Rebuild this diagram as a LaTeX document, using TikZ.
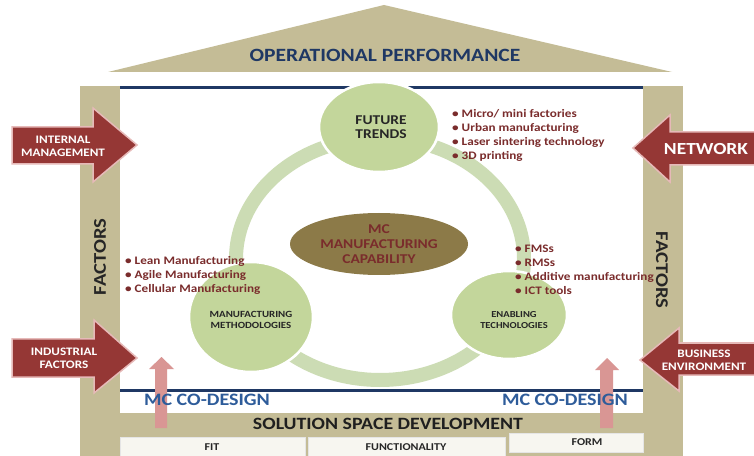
\documentclass[tikz,border=0pt]{standalone}
\usepackage{fontspec}
\setmainfont{Carlito}[FakeStretch=1.15]
\definecolor{tan}{HTML}{C4BC96}
\definecolor{navy}{HTML}{1F3864}
\definecolor{ringgreen}{HTML}{CCDCB4}
\definecolor{circgreen}{HTML}{C3D69B}
\definecolor{olive}{HTML}{8C7A48}
\definecolor{arrowred}{HTML}{953735}
\definecolor{arrowedge}{HTML}{E6B9B8}
\definecolor{pinkarrow}{HTML}{D99694}
\definecolor{listred}{HTML}{7A2C2C}
\definecolor{codesign}{HTML}{2E5C9A}
\definecolor{boxfill}{HTML}{F7F6F0}
\tikzset{
  fs/.style={font=\bfseries\fontsize{#1}{#1}\selectfont},
  bigarrow/.style={fill=arrowred, draw=arrowedge, line width=1.5bp, line join=miter},
  uparrow/.style={fill=pinkarrow, draw=none},
  arrowtext/.style={text=white, align=center, inner sep=0pt},
  bubble/.style={fill=circgreen, draw=white, line width=2.5bp},
  bubbletext/.style={text=black!85, align=center, inner sep=0pt},
  listtext/.style={text=listred, align=left, anchor=north west, inner sep=0pt,
    font=\bfseries\fontsize{11.5}{14}\selectfont},
  lowbox/.style={fill=boxfill, draw=black!10, line width=0.5bp},
  lowtext/.style={fs=10.5, text=black!85, inner sep=0pt},
}
\begin{document}
\begin{tikzpicture}[x=1bp,y=-1bp]
\useasboundingbox (0,0) rectangle (754,456);
\clip (0,0) rectangle (754,456);
\fill[white] (0,0) rectangle (754,456);
% roof
\fill[tan] (108,72) -- (384,5) -- (672,72) -- cycle;
\node[fs=18.8, text=navy, inner sep=0pt] (perf) at (385,55) {OPERATIONAL PERFORMANCE};
% pillars and base band
\fill[tan] (80,86) rectangle (120,456);
\fill[tan] (643,86) rectangle (683,456);
\fill[tan] (80,413) rectangle (683,456);
% navy lines
\draw[navy, line width=3bp] (120,87.5) -- (643,87.5);
\draw[navy, line width=3bp] (120,390) -- (643,390);
% ring
\draw[ringgreen, line width=14bp] (380,259) ellipse [x radius=144, y radius=121];
% bubbles
\filldraw[bubble] (379,127) ellipse [x radius=60, y radius=45];
\filldraw[bubble] (251,317) ellipse [x radius=62, y radius=55];
\filldraw[bubble] (509,315) ellipse [x radius=58, y radius=44];
\node[bubbletext, font=\bfseries\fontsize{13.5}{13.5}\selectfont] (future) at (381,127) {FUTURE\\TRENDS};
\node[bubbletext, font=\bfseries\fontsize{9.5}{11.5}\selectfont] (method) at (251,320) {MANUFACTURING\\METHODOLOGIES};
\node[bubbletext, font=\bfseries\fontsize{9.2}{11.5}\selectfont] (enabling) at (514,320) {ENABLING\\TECHNOLOGIES};
% center ellipse
\fill[olive] (379,244) ellipse [x radius=89, y radius=31];
\node[text=listred, align=center, inner sep=0pt, font=\bfseries\fontsize{13.5}{15}\selectfont] (mc) at (379,244) {MC\\MANUFACTURING\\CAPABILITY};
% lists
\node[listtext] (trendlist) at (452,109) {• Micro/ mini factories\\• Urban manufacturing\\• Laser sintering technology\\• 3D printing};
\node[listtext] (methlist) at (125,256) {• Lean Manufacturing\\• Agile Manufacturing\\• Cellular Manufacturing};
\node[listtext] (techlist) at (515,245) {• FMSs\\• RMSs\\• Additive manufacturing\\• ICT tools};
% factors
\node[fs=18, text=black!85, rotate=90, inner sep=0pt] (factl) at (100,257) {FACTORS};
\node[fs=18, text=black!85, rotate=-90, inner sep=0pt] (factr) at (662,270) {FACTORS};
% pink arrows
\fill[uparrow] (155,428) -- (155,369) -- (149,369) -- (161.5,357) -- (174,369) -- (167,369) -- (167,428) -- cycle;
\fill[uparrow] (600,428) -- (600,370) -- (595,370) -- (607,358) -- (619,370) -- (613,370) -- (613,428) -- cycle;
% co-design and bottom
\node[fs=17.5, text=codesign, inner sep=0pt] (cdl) at (207,400) {MC CO-DESIGN};
\node[fs=17.5, text=codesign, inner sep=0pt] (cdr) at (565,400) {MC CO-DESIGN};
\node[fs=17.3, text=black!88, inner sep=0pt] (ssd) at (388,424) {SOLUTION SPACE DEVELOPMENT};
\filldraw[lowbox] (120,437) rectangle (305,458);
\filldraw[lowbox] (308,437) rectangle (505,458);
\filldraw[lowbox] (509,433) rectangle (643,452);
\node[lowtext] (fit) at (212,447) {FIT};
\node[lowtext] (func) at (406,447) {FUNCTIONALITY};
\node[lowtext] (form) at (587,442) {FORM};
% big arrows
\filldraw[bigarrow] (12,127) -- (93,127) -- (93,108) -- (137,145) -- (93,182) -- (93,164) -- (12,164) -- cycle;
\filldraw[bigarrow] (12,339) -- (94,339) -- (94,320) -- (137,358) -- (94,393) -- (94,377) -- (12,377) -- cycle;
\filldraw[bigarrow] (760,132) -- (670,132) -- (670,115) -- (633,148) -- (670,182) -- (670,165) -- (760,165) -- cycle;
\filldraw[bigarrow] (760,343) -- (679,343) -- (679,328) -- (640,360) -- (679,391) -- (679,375) -- (760,375) -- cycle;
\node[arrowtext, font=\bfseries\fontsize{11.5}{13}\selectfont] (im) at (63,146) {INTERNAL\\MANAGEMENT};
\node[arrowtext, font=\bfseries\fontsize{11.5}{13}\selectfont] (ifac) at (64,358) {INDUSTRIAL\\FACTORS};
\node[arrowtext, font=\bfseries\fontsize{17}{17}\selectfont] (net) at (706,149) {NETWORK};
\node[arrowtext, font=\bfseries\fontsize{11.5}{13}\selectfont] (be) at (704,360) {BUSINESS\\ENVIRONMENT};
\end{tikzpicture}
\end{document}
